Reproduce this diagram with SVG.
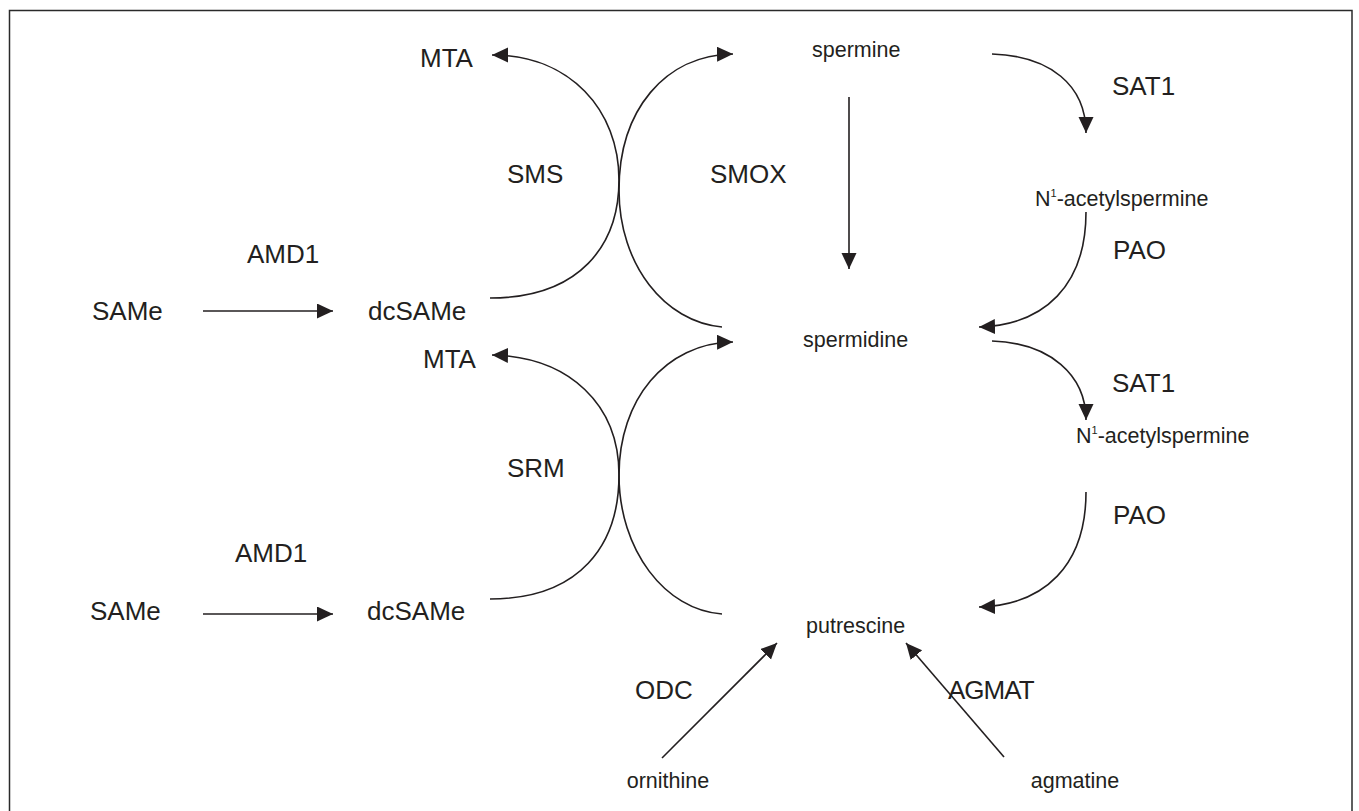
<svg xmlns="http://www.w3.org/2000/svg" width="1359" height="811" viewBox="0 0 1359 811">
<style>
.big{font-family:"Liberation Sans",Arial,sans-serif;font-size:26px;fill:#231f20}
.sm{font-family:"Liberation Sans",Arial,sans-serif;font-size:21.5px;fill:#231f20}
.c{fill:none;stroke:#231f20;stroke-width:1.6;marker-end:url(#ah)}
</style>
<defs>
<marker id="ah" markerUnits="userSpaceOnUse" markerWidth="17" markerHeight="16" refX="16" refY="7.5" orient="auto">
<path d="M0,0 L16,7.5 L0,15 z" fill="#231f20"/>
</marker>
</defs>
<rect x="0" y="0" width="1359" height="811" fill="#ffffff"/>
<rect x="9.5" y="10.5" width="1342.5" height="820" fill="none" stroke="#2a2a2a" stroke-width="1.5"/>
<g id="connectors">
<path class="c" d="M203 311 L333 311"/>
<path class="c" d="M203 614 L333 614"/>
<path class="c" d="M490 298 C580 298 619 245 619 180 C619 110 570 55 492 55"/>
<path class="c" d="M722 327 C665 322 619 265 619 190 C619 110 665 55 733 54"/>
<path class="c" d="M490 599 C580 599 619 545 619 475 C619 405 570 357 492 355"/>
<path class="c" d="M722 614 C665 610 619 550 619 475 C619 400 665 343 733 342"/>
<path class="c" d="M849 97 L849 269"/>
<path class="c" d="M992 54 C1050 56 1086 85 1086 133"/>
<path class="c" d="M1086 212 C1086 285 1045 325 979 327"/>
<path class="c" d="M992 341 C1050 343 1086 375 1086 420"/>
<path class="c" d="M1086 492 C1086 565 1045 605 979 607"/>
<path class="c" d="M662 758 L777 643"/>
<path class="c" d="M1004 757 L906 643"/>
</g>
<g id="n-same1"><text class="big" x="92" y="320">SAMe</text></g>
<g id="n-amd1a"><text class="big" x="247" y="263">AMD1</text></g>
<g id="n-dcsame1"><text class="big" x="368" y="320">dcSAMe</text></g>
<g id="n-mta1"><text class="big" x="420" y="67">MTA</text></g>
<g id="n-sms"><text class="big" x="507" y="183">SMS</text></g>
<g id="n-smox"><text class="big" x="710" y="183">SMOX</text></g>
<g id="n-spermine"><text class="sm" x="812" y="57">spermine</text></g>
<g id="n-sat1a"><text class="big" x="1112" y="95">SAT1</text></g>
<g id="n-acetyl1"><text class="sm" x="1035" y="206">N<tspan font-size="11" dy="-9">1</tspan><tspan dy="9">-acetylspermine</tspan></text></g>
<g id="n-pao1"><text class="big" x="1113" y="259">PAO</text></g>
<g id="n-spermidine"><text class="sm" x="803" y="347">spermidine</text></g>
<g id="n-mta2"><text class="big" x="423" y="368">MTA</text></g>
<g id="n-sat1b"><text class="big" x="1112" y="392">SAT1</text></g>
<g id="n-acetyl2"><text class="sm" x="1076" y="443">N<tspan font-size="11" dy="-9">1</tspan><tspan dy="9">-acetylspermine</tspan></text></g>
<g id="n-srm"><text class="big" x="507" y="477">SRM</text></g>
<g id="n-pao2"><text class="big" x="1113" y="524">PAO</text></g>
<g id="n-amd1b"><text class="big" x="235" y="562">AMD1</text></g>
<g id="n-same2"><text class="big" x="90" y="620">SAMe</text></g>
<g id="n-dcsame2"><text class="big" x="367" y="620">dcSAMe</text></g>
<g id="n-putrescine"><text class="sm" x="806" y="633">putrescine</text></g>
<g id="n-odc"><text class="big" x="635" y="699">ODC</text></g>
<g id="n-agmat"><text class="big" x="948" y="699" letter-spacing="-1">AGMAT</text></g>
<g id="n-ornithine"><text class="sm" x="668" y="788" text-anchor="middle">ornithine</text></g>
<g id="n-agmatine"><text class="sm" x="1075" y="788" text-anchor="middle">agmatine</text></g>
</svg>
